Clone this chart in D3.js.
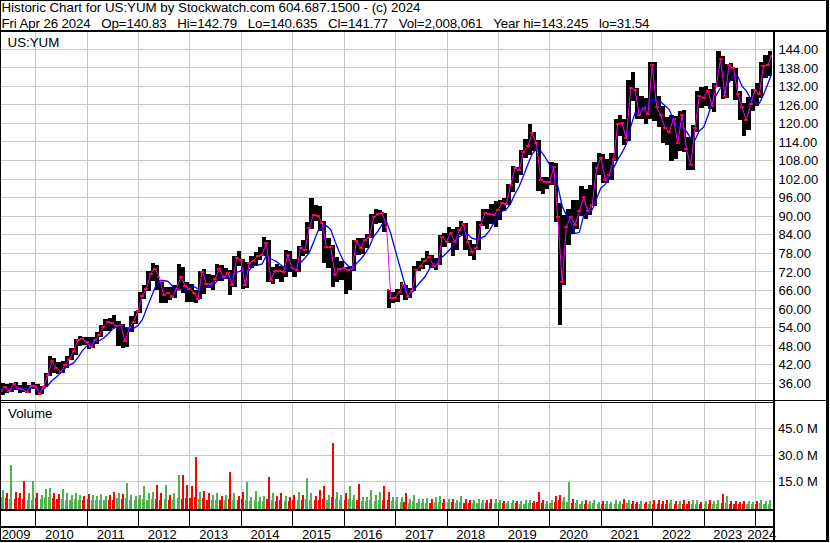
<!DOCTYPE html>
<html>
<head>
<meta charset="utf-8">
<script src="https://cdn.jsdelivr.net/npm/d3@7"></script>
<style>
  body { margin: 0; background: #fff; }
  svg text { font-family: "Liberation Sans", Arial, sans-serif; font-size: 13px; fill: #000; }
  svg text.head { font-size: 13.33px; }
</style>
</head>
<body>
<svg id="chart" width="830" height="543"></svg>
<script>
// monthly values, Apr 2009 .. Apr 2024 (one per month)
var lows = [
    32.4, 31.8, 32.5, 32.8, 33.5, 32.6, 32.8, 32.5, 33.8,                       // 2009
    32.0, 32.4, 34.4, 38.2, 39.0, 38.6, 39.0, 40.8, 43.3, 45.0, 47.8, 48.2,     // 2010
    47.0, 47.2, 48.5, 50.6, 52.8, 52.6, 53.6, 47.8, 47.3, 47.6, 52.5, 55.0,     // 2011
    58.5, 63.0, 65.5, 69.0, 66.0, 61.6, 61.8, 62.6, 63.5, 66.2, 65.0, 62.2,     // 2012
    62.0, 61.6, 63.0, 64.5, 66.5, 65.8, 68.8, 69.0, 69.4, 64.2, 66.8, 73.8,     // 2013
    66.2, 66.5, 73.0, 73.8, 75.6, 76.8, 68.4, 68.0, 69.6, 68.4, 70.2, 71.6,     // 2014
    70.2, 71.6, 77.0, 77.6, 85.6, 88.4, 85.0, 74.6, 73.0, 66.8, 68.6, 69.2,     // 2015
    64.6, 66.0, 72.2, 77.2, 77.6, 79.6, 82.6, 87.4, 87.6, 84.8, 60.2, 61.6,     // 2016
    62.0, 64.2, 62.6, 63.2, 65.6, 72.0, 72.8, 74.0, 73.2, 72.4, 74.0, 80.0,     // 2017
    81.2, 77.0, 78.8, 83.6, 79.0, 76.8, 75.6, 79.0, 86.6, 85.6, 87.4, 86.4,     // 2018
    88.6, 91.4, 93.4, 97.6, 100.4, 103.2, 108.6, 109.6, 110.8, 97.8, 97.0, 98.6, // 2019
    99.8, 88.0, 54.5, 67.4, 80.6, 84.0, 85.6, 89.8, 88.8, 90.2, 93.0, 103.0,    // 2020
    100.4, 100.6, 101.6, 107.8, 115.8, 113.0, 114.2, 127.0, 121.4, 121.2, 119.6, 121.4, // 2021
    120.6, 118.6, 113.4, 112.8, 107.6, 108.4, 110.8, 110.6, 104.8, 104.6, 117.2, 124.8, // 2022
    125.6, 124.4, 123.6, 131.6, 127.8, 128.2, 133.6, 127.4, 121.0, 115.6, 117.6, 124.0, // 2023
    125.4, 128.2, 134.6, 135.2                                                  // 2024
];
var highs = [
    34.4, 36.0, 35.5, 36.0, 36.2, 35.2, 36.2, 35.2, 36.3,
    35.6, 35.0, 39.0, 44.5, 44.0, 42.5, 43.0, 44.6, 47.2, 50.2, 51.0, 50.8,
    50.6, 50.6, 52.2, 54.5, 56.7, 57.0, 57.8, 56.0, 54.8, 54.0, 57.6, 59.2,
    65.2, 67.4, 72.0, 74.8, 74.0, 68.5, 67.0, 66.8, 67.4, 74.5, 73.5, 68.4,
    68.0, 66.0, 72.2, 72.6, 71.0, 70.8, 74.2, 74.0, 73.2, 72.4, 77.0, 78.5,
    75.8, 75.0, 77.0, 78.2, 79.8, 83.0, 82.0, 73.4, 74.5, 73.8, 79.0, 78.4,
    76.0, 80.2, 82.2, 88.0, 95.8, 93.4, 93.0, 88.4, 82.6, 80.6, 76.6, 75.4,
    73.4, 73.6, 82.0, 82.8, 82.6, 84.2, 90.6, 92.0, 91.8, 90.8, 66.0, 65.2,
    66.2, 68.6, 67.6, 66.6, 73.8, 75.4, 76.4, 78.6, 77.4, 76.4, 83.8, 84.4,
    86.4, 85.6, 86.2, 88.4, 87.6, 82.2, 80.8, 88.2, 92.0, 92.2, 93.6, 94.8,
    95.0, 95.6, 100.2, 106.0, 105.8, 111.2, 114.8, 119.6, 117.0, 114.4, 102.6, 102.4,
    107.4, 107.0, 94.0, 90.2, 92.2, 95.0, 95.0, 99.6, 98.6, 100.0, 107.2, 110.4,
    110.0, 108.2, 110.4, 121.4, 122.6, 121.2, 133.8, 136.4, 131.2, 128.8, 128.2, 139.6,
    139.8, 128.6, 125.6, 122.0, 122.4, 122.2, 123.8, 124.2, 115.4, 119.4, 130.2, 131.6,
    132.0, 131.0, 133.0, 143.2, 141.6, 139.0, 139.4, 137.8, 130.4, 126.4, 128.4, 131.0,
    133.0, 139.6, 142.0, 143.2
];
var closes = [
    33.4, 34.6, 33.3, 35.4, 34.2, 33.8, 33.0, 34.8, 35.0,
    32.4, 34.6, 38.4, 42.8, 40.8, 39.4, 41.6, 43.6, 46.3, 49.6, 50.2, 49.1,
    47.4, 49.8, 51.4, 53.8, 55.6, 55.3, 54.2, 54.6, 49.4, 53.6, 55.7, 59.0,
    64.0, 66.4, 71.2, 72.8, 70.2, 64.4, 65.0, 63.8, 66.4, 70.2, 67.2, 66.4,
    65.0, 63.0, 71.8, 68.0, 67.8, 69.4, 72.8, 70.0, 71.4, 67.6, 76.2, 75.6,
    67.4, 74.6, 75.4, 77.0, 77.4, 81.2, 69.2, 72.2, 72.0, 71.8, 77.4, 73.0,
    72.4, 79.6, 78.8, 86.0, 90.2, 90.0, 87.6, 79.8, 79.8, 70.8, 72.8, 73.0,
    72.4, 72.6, 81.8, 79.6, 82.2, 83.0, 89.4, 90.6, 90.8, 86.4, 63.4, 63.4,
    65.4, 67.8, 63.8, 65.6, 72.4, 73.8, 75.4, 76.6, 73.6, 74.4, 83.2, 81.6,
    84.4, 81.4, 85.2, 87.2, 81.4, 78.2, 79.4, 87.0, 90.8, 90.4, 90.2, 91.8,
    94.0, 93.6, 99.8, 105.4, 104.6, 110.6, 112.4, 116.6, 113.4, 101.6, 100.8, 100.8,
    105.6, 89.4, 68.6, 86.4, 89.6, 87.0, 91.4, 96.0, 91.4, 93.4, 105.4, 108.6,
    101.6, 103.0, 108.2, 119.6, 119.8, 115.0, 131.4, 130.6, 122.4, 124.8, 122.8, 138.8,
    125.2, 122.6, 118.4, 117.0, 121.4, 113.6, 122.6, 111.4, 106.4, 118.4, 128.6, 128.2,
    130.4, 125.6, 132.0, 140.6, 128.8, 138.6, 137.6, 129.4, 125.0, 120.8, 126.2, 130.6,
    129.4, 138.4, 138.6, 141.77
];
// daily volume in millions: typical level and biggest day of each month
var volTypical = [
    6, 6, 5.5, 5, 5, 5.5, 5, 4.5, 4.5,
    5.5, 5, 6, 6, 5.5, 5, 5, 4.5, 4.5, 5, 4.5, 4,
    5, 4.5, 4.5, 4, 4, 4, 4.5, 5.5, 5, 5.5, 4, 4,
    5, 5, 4.5, 5, 5, 4.5, 5, 4, 4, 5.5, 5, 5.5,
    5.5, 6, 5, 5.5, 4.5, 4.5, 4.5, 4, 4, 5, 4.5, 4,
    5, 4.5, 3.5, 4, 3.5, 3.5, 5, 4, 3.5, 4, 3.5, 3.5,
    4, 4.5, 4, 5, 4.5, 4, 4.5, 5, 4.5, 6, 5, 4,
    4.5, 5, 4, 4.5, 3.5, 3.5, 4, 3.5, 4, 4.5, 4, 3.5,
    3.5, 3, 3, 2.8, 3.5, 2.8, 2.8, 2.8, 2.8, 3, 3, 2.5,
    3, 3, 2.8, 3, 2.8, 2.5, 2.5, 2.5, 2.3, 2.5, 2.5, 2.8,
    2.5, 2.3, 2.3, 2.5, 2.3, 2.2, 2.2, 2.5, 2.3, 3.2, 2.5, 2.2,
    2.5, 3.2, 4.2, 3.5, 3, 2.8, 2.3, 2, 2, 2, 2.3, 2,
    2, 2, 1.8, 2, 1.8, 2, 2.3, 2, 1.8, 1.8, 1.8, 2,
    2.2, 2.2, 2, 2, 2.3, 2, 1.8, 2, 2, 2, 2.2, 1.8,
    1.8, 2, 2, 2, 2.5, 2.5, 1.8, 2, 1.8, 2, 2, 1.8,
    2, 2.3, 2, 2.2
];
var volPeak = [
    8, 10, 8, 24, 9, 8, 15, 8, 15,
    8, 7, 10.5, 11, 8, 7.5, 10.5, 8.5, 7, 8, 7, 6.5,
    7.5, 7, 6.5, 7.5, 6.5, 7, 9, 8.5, 7.5, 14, 7, 6.5,
    7, 12.5, 8, 9, 13, 8, 13, 7, 8, 18.5, 18.5, 12.8,
    12, 29, 9, 9.5, 8, 7, 8, 6.5, 7, 20.4, 8, 6.5,
    9, 14.5, 6, 9.5, 6, 6.5, 17.5, 8, 6.5, 8, 6.5, 6,
    7, 9, 7, 17, 8, 6.5, 10, 12, 7, 36.5, 9, 7,
    8, 12, 7, 13.5, 6, 6, 10, 7, 9, 12, 9, 6,
    6, 6, 8, 5, 7, 5, 5, 5.5, 5, 6, 6.5, 5,
    5, 5, 4.5, 6.7, 5, 4, 4.5, 5, 4, 4.5, 5, 5,
    4, 3.5, 3.5, 4, 3.5, 3.5, 4, 4.5, 3.5, 9, 4, 3.5,
    4, 6.5, 7, 6, 14.7, 5, 4, 3.5, 4, 3.5, 4, 3,
    3.5, 3.5, 3, 4, 3.5, 5, 4.5, 3.5, 3, 3.5, 3, 3.5,
    4, 4.5, 3.5, 4, 4.5, 3.5, 3.5, 4, 3.5, 4, 4, 3,
    3.5, 4, 3.5, 4, 7.6, 6.5, 3.5, 3.5, 3, 3.5, 3.5, 3,
    3.5, 4.5, 3.5, 4
];

var years = ["2009", "2010", "2011", "2012", "2013", "2014", "2015", "2016",
             "2017", "2018", "2019", "2020", "2021", "2022", "2023", "2024"];
var priceTicks = [36, 42, 48, 54, 60, 66, 72, 78, 84, 90, 96, 102, 108, 114, 120, 126, 132, 138, 144];
var volTicks = [15, 30, 45];
var volTickLabels = ["15.0 M", "30.0 M", "45.0 M"];

// non-breaking spaces keep the wide gaps of the second header line
var title1 = "Historic Chart for US:YUM by Stockwatch.com 604.687.1500 - (c) 2024";
var title2 = ["Fri Apr 26 2024", "Op=140.83", "Hi=142.79", "Lo=140.635", "Cl=141.77",
              "Vol=2,008,061", "Year hi=143.245", "lo=31.54"].join("\u00a0\u00a0\u00a0");

// layout
var plotRight = 773;
var priceTop = 32, priceBottom = 400;
var volTop = 403, volBottom = 509;

var startDate = new Date(2009, 3, 26),
    endDate = new Date(2024, 3, 27);

var months = d3.timeMonth.range(new Date(2009, 3, 1), new Date(2024, 4, 1));

var x = d3.scaleTime().domain([startDate, endDate]).range([0, 771.5]);
var y = d3.scaleLinear().domain([36, 144]).range([382.5, 48.7]);
var yv = d3.scaleLinear().domain([0, 60]).range([507.5, 402]);

var data = months.map(function (m, i) {
    var s = m < startDate ? startDate : m;
    var e = d3.timeMonth.offset(m, 1);
    if (e > endDate) e = endDate;
    var from = Math.max(0, i - 4);
    return {
        x0: x(s), x1: x(e),
        lo: lows[i], hi: highs[i], cl: closes[i],
        prev: i ? closes[i - 1] : closes[0],
        up: i ? closes[i] >= closes[i - 1] : true,
        ma: d3.mean(closes.slice(from, i + 1)),
        vt: volTypical[i], vp: volPeak[i]
    };
});

var svg = d3.select("#chart");

svg.append("rect").attr("width", 830).attr("height", 543).attr("fill", "#fff");

var defs = svg.append("defs");
defs.append("clipPath").attr("id", "clipPrice")
    .append("rect").attr("x", 1).attr("y", priceTop).attr("width", plotRight - 1).attr("height", priceBottom - priceTop);
defs.append("clipPath").attr("id", "clipVol")
    .append("rect").attr("x", 1).attr("y", volTop).attr("width", plotRight - 1).attr("height", volBottom - volTop);

// grid
var yearStarts = d3.timeYear.range(new Date(2010, 0, 1), new Date(2024, 0, 2));
var grid = svg.append("g").attr("stroke", "#c8c8c8").attr("stroke-width", 1).attr("shape-rendering", "crispEdges");

grid.selectAll(".vg").data(yearStarts).enter().append("line")
    .attr("x1", function (d) { return Math.round(x(d)) + 0.5; })
    .attr("x2", function (d) { return Math.round(x(d)) + 0.5; })
    .attr("y1", priceTop).attr("y2", priceBottom);
grid.selectAll(".vgv").data(yearStarts).enter().append("line")
    .attr("x1", function (d) { return Math.round(x(d)) + 0.5; })
    .attr("x2", function (d) { return Math.round(x(d)) + 0.5; })
    .attr("y1", volTop).attr("y2", volBottom);
grid.selectAll(".hg").data(priceTicks).enter().append("line")
    .attr("x1", 1).attr("x2", plotRight)
    .attr("y1", function (d) { return Math.round(y(d)) + 0.5; })
    .attr("y2", function (d) { return Math.round(y(d)) + 0.5; });
grid.selectAll(".hgv").data(volTicks).enter().append("line")
    .attr("x1", 1).attr("x2", plotRight)
    .attr("y1", function (d) { return Math.round(yv(d)) + 0.5; })
    .attr("y2", function (d) { return Math.round(yv(d)) + 0.5; });

// price bars
var price = svg.append("g").attr("clip-path", "url(#clipPrice)");
price.append("g").attr("shape-rendering", "crispEdges")
    .selectAll("rect").data(data).enter().append("rect")
    .attr("x", function (d) { return d.x0; })
    .attr("width", function (d) { return d.x1 - d.x0; })
    .attr("y", function (d) { return y(d.hi); })
    .attr("height", function (d) { return y(d.lo) - y(d.hi); })
    .attr("fill", "#000");

// red open / close ticks
var ticks = price.append("g").attr("fill", "#ff0000").attr("shape-rendering", "crispEdges");
ticks.selectAll(".ct").data(data).enter().append("rect")
    .attr("x", function (d) { return d.x1 - 2; })
    .attr("y", function (d) { return y(d.cl) - 1; })
    .attr("width", 2).attr("height", 2);
ticks.selectAll(".ot").data(data).enter().append("rect")
    .attr("x", function (d) { return d.x0; })
    .attr("y", function (d) { return y(Math.max(d.lo, Math.min(d.hi, d.prev))) - 1; })
    .attr("width", 2).attr("height", 2);

// averages
var shortLine = d3.line()
    .x(function (d) { return d.x1; })
    .y(function (d) { return y(d.cl); });
var longLine = d3.line()
    .x(function (d) { return d.x1; })
    .y(function (d) { return y(d.ma); });

price.append("path").datum(data)
    .attr("d", longLine).attr("fill", "none")
    .attr("stroke", "#0000ff").attr("stroke-width", 1.3);
price.append("path").datum(data)
    .attr("d", shortLine).attr("fill", "none")
    .attr("stroke", "#ff00ff").attr("stroke-width", 1);

// volume
var vol = svg.append("g").attr("clip-path", "url(#clipVol)").attr("shape-rendering", "crispEdges");
vol.selectAll(".vt").data(data).enter().append("rect")
    .attr("x", function (d) { return d.x0; })
    .attr("width", function (d) { return Math.max(1, d.x1 - d.x0 - 1.2); })
    .attr("y", function (d) { return yv(d.vt); })
    .attr("height", function (d) { return volBottom - yv(d.vt); })
    .attr("fill", function (d) { return d.up ? "#4db34d" : "#ff0000"; });
vol.selectAll(".vp").data(data).enter().append("rect")
    .attr("x", function (d) { return (d.x0 + d.x1) / 2 - 1; })
    .attr("width", 2)
    .attr("y", function (d) { return yv(d.vp); })
    .attr("height", function (d) { return volBottom - yv(d.vp); })
    .attr("fill", function (d) { return d.up ? "#4db34d" : "#ff0000"; });

// frame lines
var frame = svg.append("g").attr("fill", "#000").attr("shape-rendering", "crispEdges");
frame.append("rect").attr("x", 0).attr("y", 0).attr("width", 829).attr("height", 1);
frame.append("rect").attr("x", 0).attr("y", 0).attr("width", 1).attr("height", 542);
frame.append("rect").attr("x", 826).attr("y", 0).attr("width", 3).attr("height", 542);
frame.append("rect").attr("x", 0).attr("y", 540).attr("width", 829).attr("height", 2);
frame.append("rect").attr("x", 0).attr("y", 30).attr("width", 829).attr("height", 2);
frame.append("rect").attr("x", 0).attr("y", 400).attr("width", 829).attr("height", 1);
frame.append("rect").attr("x", 0).attr("y", 402).attr("width", plotRight).attr("height", 1);
frame.append("rect").attr("x", 0).attr("y", volBottom).attr("width", plotRight).attr("height", 2);
frame.append("rect").attr("x", 0).attr("y", 526).attr("width", plotRight).attr("height", 2);
frame.append("rect").attr("x", plotRight).attr("y", 31).attr("width", 2).attr("height", 510);

// year separators under the volume panel
frame.selectAll(".ys").data(yearStarts).enter().append("rect")
    .attr("x", function (d) { return Math.round(x(d)); })
    .attr("y", volBottom + 1).attr("width", 1).attr("height", 526 - volBottom - 1);

// texts
svg.append("text").attr("class", "head").attr("x", 1.5).attr("y", 12)
    .attr("textLength", 419).attr("lengthAdjust", "spacing").text(title1);
svg.append("text").attr("class", "head").attr("x", 1.5).attr("y", 27.5)
    .attr("textLength", 648).attr("lengthAdjust", "spacing").text(title2);
svg.append("text").attr("class", "head").attr("x", 7.5).attr("y", 46.5).text("US:YUM");
svg.append("text").attr("class", "head").attr("x", 8).attr("y", 418).text("Volume");

svg.selectAll(".pl").data(priceTicks).enter().append("text")
    .attr("x", 778.5)
    .attr("y", function (d) { return y(d) + 5.3; })
    .text(function (d) { return d3.format(".2f")(d); });

svg.selectAll(".vl").data(volTicks).enter().append("text")
    .attr("x", 778)
    .attr("y", function (d) { return yv(d) + 5; })
    .text(function (d, i) { return volTickLabels[i]; });

svg.selectAll(".yl").data(years).enter().append("text")
    .attr("text-anchor", "middle")
    .attr("x", function (d) {
        var a = new Date(+d, 0, 1), b = new Date(+d + 1, 0, 1);
        if (a < startDate) a = startDate;
        if (b > endDate) b = endDate;
        return (x(a) + x(b)) / 2 - 1.5;
    })
    .attr("y", 539)
    .text(function (d) { return d; });
</script>
</body>
</html>
